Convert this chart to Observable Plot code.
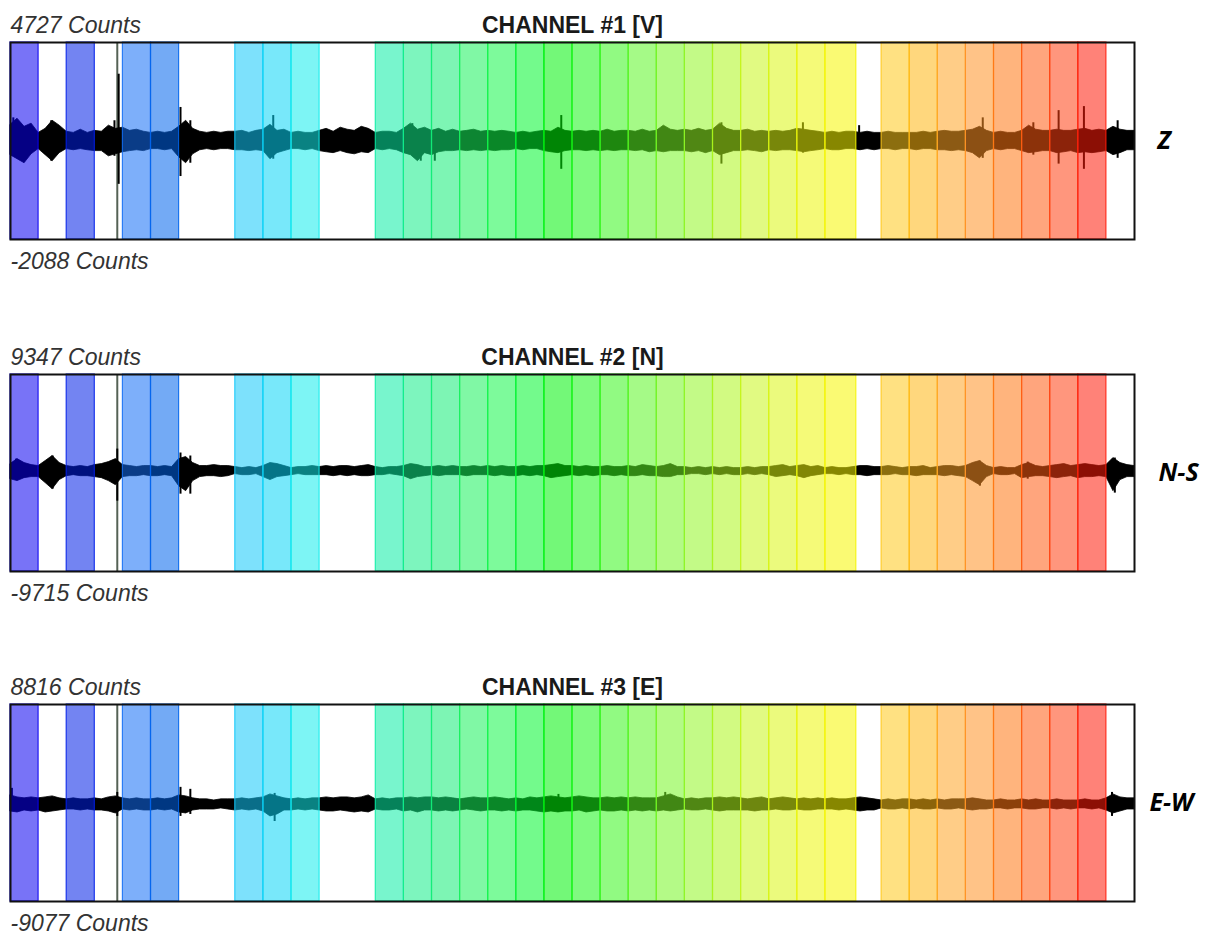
<!DOCTYPE html>
<html>
<head>
<meta charset="utf-8">
<script src="https://cdn.jsdelivr.net/npm/d3@7"></script>
<script src="https://cdn.jsdelivr.net/npm/@observablehq/plot@0.6"></script>
<style>
  html, body { margin: 0; padding: 0; background: #fff; }
  #chart svg { display: block; }
</style>
</head>
<body>
<div id="chart"></div>
<script>
// ---- time axis (minutes of record) ----
const timeDomain = [0, 40];
const sampleStep = 0.25;

// ---- coloured analysis windows (start, end in minutes) ----
const windowStart = [0, 2, 4, 5, 8, 9, 10, 13, 14, 15, 16, 17, 18, 19, 20, 21, 22, 23, 24, 25, 26, 27, 28, 29, 31, 32, 33, 34, 35, 36, 37, 38];
const windowEnd   = [1, 3, 5, 6, 9, 10, 11, 14, 15, 16, 17, 18, 19, 20, 21, 22, 23, 24, 25, 26, 27, 28, 29, 30.1, 32, 33, 34, 35, 36, 37, 38, 39];
const windowColor = ["#0a00f0", "#001fe7", "#126df5", "#0064ec", "#12c8f9", "#09d5f5", "#12ecec",
  "#09eca4", "#12ec88", "#12ec76", "#18f25b", "#12f549", "#00f52d", "#00f209", "#18f518", "#37f51b",
  "#5bf524", "#76f524", "#91f524", "#adf51b", "#c8f51b", "#daf512", "#ecf509", "#f5f500",
  "#ffc81b", "#ffb612", "#ffa424", "#ff9124", "#ff7612", "#ff5b12", "#ff4012", "#ff1b09"];
const markerTime = 3.8;

// ---- channels ----
const channelTitle = ["CHANNEL #1 [V]", "CHANNEL #2 [N]", "CHANNEL #3 [E]"];
const channelSide  = ["Z", "N-S", "E-W"];
const channelMax   = [4727, 9347, 8816];
const channelMin   = [-2088, -9715, -9077];
const channelBase  = [1320, 0, -260];

// envelope of each trace (counts above / below baseline), one value every 0.25 min
const zHi = [560,770,490,600, 280,420,700,530, 320,280,390,280, 350,320,530,420, 460,350,390,320, 280,320,280,320, 490,700,420,320, 280,320,280,320, 320,350,280,350, 390,560,350,390,
  280,320,280,280, 350,420,320,460, 390,350,490,420, 280,320,320,280, 420,600,390,460, 350,420,320,390, 320,350,390,320, 350,320,350,320, 280,320,280,320, 350,320,460,350,
  320,350,320,350, 320,390,320,350, 350,320,390,320, 350,530,390,350, 390,350,420,350, 390,600,420,350, 350,390,320,350, 320,350,320,350, 420,390,350,320, 280,320,280,320,
  320,280,320,280, 280,320,280,280, 280,280,320,280, 320,350,320,320, 350,390,490,350, 280,320,280,280, 350,530,390,350, 350,390,350,350, 390,420,350,390, 350,490,390,350, 350];
const zLo = [490,630,770,460, 280,490,700,420, 280,320,280,320, 350,350,530,460, 390,350,320,350, 280,280,320,280, 560,770,460,320, 280,320,280,280, 320,320,350,320, 350,630,420,350,
  280,280,320,280, 350,390,420,350, 420,460,390,420, 280,320,280,320, 420,490,700,420, 490,390,350,350, 320,350,320,350, 320,350,320,320, 280,320,280,280, 350,390,420,350,
  320,320,350,320, 350,320,350,320, 320,350,320,390, 350,390,350,350, 350,390,350,420, 350,490,420,350, 350,320,350,390, 320,350,320,320, 350,390,350,320, 280,320,320,280,
  280,320,280,320, 280,280,320,280, 280,320,280,280, 320,320,350,320, 350,420,600,350, 280,320,280,280, 350,420,390,350, 350,420,390,350, 420,390,420,390, 350,490,420,320, 320];
const nHi = [680,1160,780,580, 490,970,1460,780, 490,390,490,390, 580,680,870,1160, 580,490,390,490, 490,390,490,390, 1160,1360,780,490, 490,580,490,490, 390,290,390,290, 490,780,680,490,
  290,390,390,490, 390,490,390,490, 490,390,490,580, 390,290,390,390, 490,680,580,390, 390,490,390,490, 390,390,490,390, 490,390,490,390, 390,490,390,490, 490,580,680,490,
  490,390,490,390, 390,490,390,390, 490,390,580,490, 390,490,680,390, 390,290,390,290, 390,290,390,290, 290,390,290,390, 390,490,580,390, 490,580,390,490, 290,390,290,290,
  390,490,490,390, 390,490,390,290, 390,390,490,290, 390,490,490,390, 490,780,970,490, 290,390,290,290, 580,780,490,390, 490,580,680,490, 580,680,580,490, 580,1260,780,580, 490];
const nLo = [780,970,680,580, 580,1160,1750,870, 490,390,490,490, 580,680,970,1360, 580,490,490,390, 490,490,390,490, 1460,1940,970,580, 490,490,580,490, 290,390,390,290, 580,870,580,490,
  390,290,390,390, 390,390,490,390, 490,390,490,490, 390,390,290,390, 490,780,580,490, 390,490,390,390, 390,490,390,390, 390,490,390,490, 490,390,490,390, 490,680,580,490,
  390,490,390,490, 390,390,490,390, 490,490,390,490, 490,580,580,390, 390,290,290,390, 290,390,290,390, 390,290,390,290, 390,580,490,390, 490,680,490,390, 290,290,390,290,
  390,390,490,390, 390,390,290,390, 390,490,390,390, 390,490,390,490, 580,970,1360,580, 290,390,390,290, 680,580,490,490, 580,680,580,490, 680,580,580,490, 580,1940,870,580, 580];
const eHi = [820,640,550,640, 550,640,730,550, 460,550,460,460, 550,460,640,730, 550,460,550,460, 460,550,460,550, 820,730,550,460, 460,360,460,460, 460,550,460,550, 640,910,730,550,
  460,550,460,550, 550,640,550,640, 640,550,640,820, 460,550,460,550, 550,640,550,640, 640,550,640,550, 460,550,640,550, 550,640,550,460, 550,460,640,550, 640,730,640,550,
  640,730,640,550, 550,640,550,640, 550,640,550,550, 550,730,910,640, 460,550,460,550, 550,640,550,640, 550,460,550,640, 460,550,640,550, 460,550,460,550, 460,550,460,460,
  550,640,550,460, 360,460,360,460, 460,360,460,360, 460,360,460,460, 460,550,460,360, 360,460,360,360, 460,360,460,360, 360,460,360,360, 360,460,360,360, 550,910,640,550, 550];
const eLo = [640,730,550,640, 550,730,640,550, 460,460,550,460, 550,550,640,820, 460,550,460,550, 550,460,550,460, 730,820,550,460, 460,460,360,460, 550,460,550,460, 640,1090,910,550,
  550,460,550,460, 550,640,640,550, 640,730,640,730, 460,550,550,460, 640,550,730,550, 550,640,550,640, 550,460,550,640, 550,550,640,550, 640,550,550,640, 730,640,730,640,
  640,550,730,640, 550,640,640,550, 640,550,640,550, 640,550,640,550, 460,550,550,460, 550,640,550,550, 550,550,640,550, 550,460,550,550, 460,550,550,460, 460,460,550,460,
  550,640,550,550, 360,460,460,360, 460,360,460,460, 360,460,460,360, 460,550,460,460, 360,360,460,360, 360,460,460,360, 360,460,360,460, 360,360,460,360, 550,820,640,460, 460];

// isolated spikes: [time, counts above, counts below]
const zSpikes = [[0.1,800,490],[1.45,700,700],[3.7,700,530],[3.85,2310,1500],[6.05,1160,1230],[6.4,700,770],[9.35,880,630],[14.3,600,420],[14.6,420,700],[15.1,280,700],[19.6,880,980],[25.3,630,800],[28.2,630,420],[30.2,530,320],[34.6,800,600],[36.4,630,490],[37.3,1050,800],[38.2,1190,980],[39.4,700,600]];
const nSpikes = [[0.2,1160,780],[1.5,1460,1750],[3.8,2130,2910],[6.05,1750,2230],[6.4,1460,2230],[34.5,970,1460],[36.2,870,780],[39.3,1260,2130]];
const eSpikes = [[0.05,1460,550],[3.8,1090,1090],[6.05,1550,1090],[6.4,1370,910],[9.4,1000,1550],[19.5,910,730],[23.3,1090,550],[39.2,1090,1090]];

const hiSets = [zHi, nHi, eHi];
const loSets = [zLo, nLo, eLo];
const spikeSets = [zSpikes, nSpikes, eSpikes];
const svgHeights = [332, 330, 272];
const sideOffset = [23, 24, 15];

const windows = windowStart.map((s, i) => ({start: s, end: windowEnd[i], color: windowColor[i]}));
const root = document.getElementById("chart");

for (let c = 0; c < 3; c++) {
  const base = channelBase[c];
  const lo = channelMin[c], hi = channelMax[c];
  const rows = hiSets[c].map((h, i) => ({t: i * sampleStep, y1: base - loSets[c][i], y2: base + h}));
  const spikes = spikeSets[c].map(d => ({t: d[0], y1: base - d[2], y2: base + d[1]}));
  const H = svgHeights[c];
  const plot = Plot.plot({
    width: 1208,
    height: H,
    marginLeft: 10,
    marginRight: 74,
    marginTop: 42,
    marginBottom: H - 42 - 197,
    x: {domain: timeDomain, axis: null},
    y: {domain: [lo, hi], axis: null},
    color: {type: "identity"},
    style: {background: "white", fontFamily: "'Liberation Sans', Arial, sans-serif", overflow: "visible"},
    marks: [
      Plot.ruleX([markerTime], {stroke: "#556255", strokeWidth: 2}),
      Plot.areaY(rows, {x: "t", y1: "y1", y2: "y2", fill: "black", stroke: "black", strokeWidth: 0.8, curve: "linear"}),
      Plot.ruleX(spikes, {x: "t", y1: "y1", y2: "y2", stroke: "black", strokeWidth: 2}),
      Plot.rect(windows, {x1: "start", x2: "end", y1: () => lo, y2: () => hi,
        fill: "color", fillOpacity: 0.55, stroke: "color", strokeOpacity: 0.85, strokeWidth: 1.2}),
      Plot.frame({stroke: "#111", strokeWidth: 2}),
      Plot.text([`${hi} Counts`], {frameAnchor: "top-left", textAnchor: "start", lineAnchor: "bottom", dy: -10,
        fontSize: 23, fontStyle: "italic", fill: "#333"}),
      Plot.text([`${lo} Counts`], {frameAnchor: "bottom-left", textAnchor: "start", lineAnchor: "top", dy: 13,
        fontSize: 23, fontStyle: "italic", fill: "#333"}),
      Plot.text([channelTitle[c]], {frameAnchor: "top", textAnchor: "middle", lineAnchor: "bottom", dy: -10,
        fontSize: 23, fontWeight: "bold", fill: "#1a1a1a"}),
      Plot.text([channelSide[c]], {frameAnchor: "right", textAnchor: "start", dx: sideOffset[c],
        fontSize: 25, fontWeight: "bold", fontStyle: "italic", fill: "#000",
        fontFamily: "'Open Sans', sans-serif"})
    ]
  });
  root.appendChild(plot);
}
</script>
</body>
</html>
